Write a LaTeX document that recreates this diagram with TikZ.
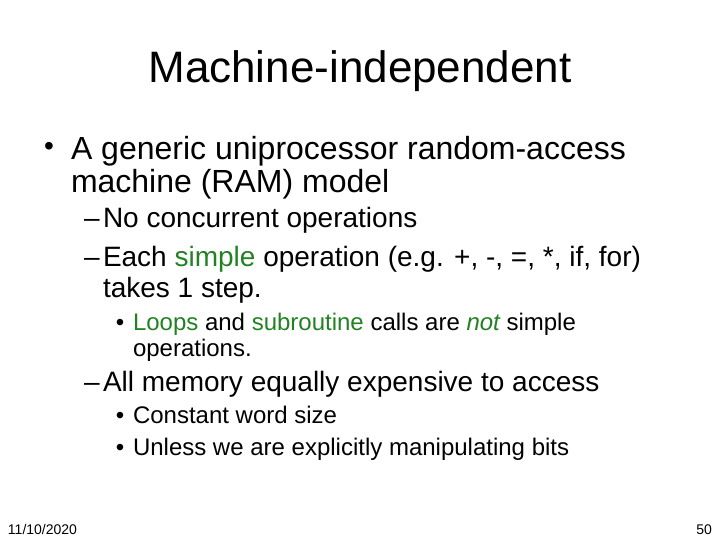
\documentclass[tikz,border=0pt]{standalone}
\usepackage{fontspec}
\setmainfont{Liberation Sans}
\definecolor{hl}{RGB}{34,130,34}
\begin{document}
\begin{tikzpicture}[x=1pt,y=-1pt,
  every node/.style={inner sep=0pt,outer sep=0pt,anchor=base west},
  ttl/.style={font=\fontsize{44}{48}\selectfont,anchor=base},
  l1/.style={font=\fontsize{32}{34}\selectfont},
  l2/.style={font=\fontsize{28}{30}\selectfont},
  l3/.style={font=\fontsize{24}{26}\selectfont},
  bul/.style={anchor=base},
  ft/.style={font=\fontsize{14}{16}\selectfont}]
\useasboundingbox (0,0) rectangle (720,540);
\node[ttl] (title) at (360,83) {Machine-independent};
\node[font=\fontsize{28}{30}\selectfont,bul] (b1) at (49,156) {•};
\node[l1] (t1a) at (71,160) {A generic uniprocessor random-access};
\node[l1] (t1b) at (71,193) {machine (RAM) model};
\node[l2] (d1) at (84,228) {–};
\node[l2] (t2a) at (103,228) {No concurrent operations};
\node[l2] (d2) at (84,266) {–};
\node[l2] (t2b) at (103,266) {Each \textcolor{hl}{simple} operation (e.g. +, -, =, *, if, for)};
\node[l2] (t2c) at (103,297) {takes 1 step.};
\node[l3,bul] (b3) at (120,330) {•};
\node[l3] (t3a) at (133,330) {\textcolor{hl}{Loops} and \textcolor{hl}{subroutine} calls are \textcolor{hl}{\itshape not} simple};
\node[l3] (t3b) at (133,356) {operations.};
\node[l2] (d3) at (84,391) {–};
\node[l2] (t2d) at (103,391) {All memory equally expensive to access};
\node[l3,bul] (b4) at (120,423) {•};
\node[l3] (t3c) at (133,423) {Constant word size};
\node[l3,bul] (b5) at (120,455) {•};
\node[l3] (t3d) at (133,455) {Unless we are explicitly manipulating bits};
\node[ft] (date) at (8,534) {11/10/2020};
\node[ft,anchor=base east] (page) at (712,534) {50};
\end{tikzpicture}
\end{document}
